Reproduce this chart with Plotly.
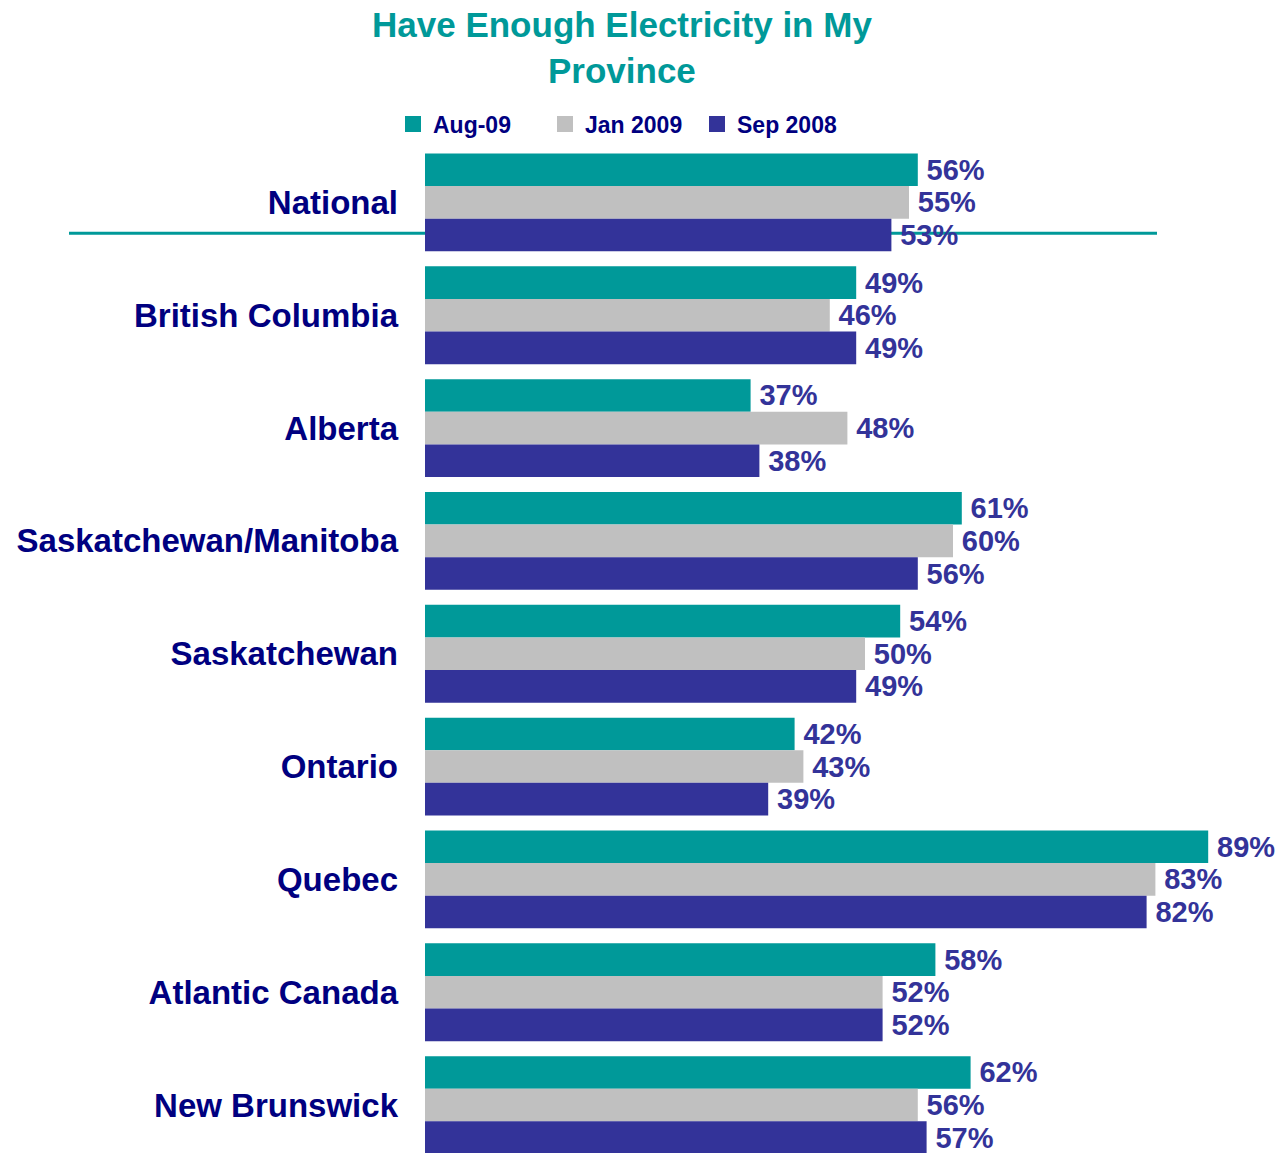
import plotly.graph_objects as go

categories = ["National", "British Columbia", "Alberta", "Saskatchewan/Manitoba",
              "Saskatchewan", "Ontario", "Quebec", "Atlantic Canada", "New Brunswick"]
aug09 = [56, 49, 37, 61, 54, 42, 89, 58, 62]
jan2009 = [55, 46, 48, 60, 50, 43, 83, 52, 56]
sep2008 = [53, 49, 38, 56, 49, 39, 82, 52, 57]
series_names = ["Aug-09", "Jan 2009", "Sep 2008"]
series_values = [aug09, jan2009, sep2008]
colors = ["#009999", "#C0C0C0", "#333399"]

FONT = "Liberation Sans, Arial, sans-serif"
W, H = 1279, 1153
L, T = 425, 144.5
PW, PH = W - L, H - T

fig = go.Figure()
for name, vals, col in zip(series_names, series_values, colors):
    fig.add_trace(go.Bar(
        y=categories, x=vals, orientation="h", name=name,
        marker=dict(color=col, line=dict(width=0)),
        text=[f"\u2009{v}%" for v in vals], textposition="outside",
        textfont=dict(family=FONT, size=29, color="#333399", weight="bold"),
        cliponaxis=False, showlegend=False, hoverinfo="x+y",
    ))
# legend entries with larger square symbols
for name, col in zip(series_names, colors):
    fig.add_trace(go.Scatter(
        x=[None], y=[None], mode="markers", name=name,
        marker=dict(symbol="square", size=17, color=col),
        showlegend=True,
    ))

line_y = 1 - (232 - T) / PH
fig.add_shape(type="line", xref="paper", yref="paper",
              x0=(69 - L) / PW, x1=(1157 - L) / PW,
              y0=line_y, y1=line_y,
              line=dict(color="#009999", width=3), layer="below")

fig.add_annotation(
    text="Have Enough Electricity in My<br>Province",
    xref="paper", yref="paper",
    x=(622 - L) / PW, xanchor="center",
    y=1 + (T - 1) / PH, yanchor="top",
    showarrow=False, align="center",
    font=dict(family=FONT, size=35, color="#009999", weight="bold"),
)

fig.update_layout(
    width=W, height=H,
    margin=dict(l=L, r=0, t=T, b=0, pad=0),
    paper_bgcolor="white", plot_bgcolor="white",
    barmode="group", bargap=0.133, bargroupgap=0,
    legend=dict(orientation="h", xref="container", yref="container",
                x=393 / W, xanchor="left", y=1 - 124 / H, yanchor="middle",
                font=dict(family=FONT, size=23, color="#000080", weight="bold"),
                entrywidth=107, entrywidthmode="pixels",
                bgcolor="rgba(0,0,0,0)", traceorder="normal"),
    xaxis=dict(range=[0, PW / 8.8], visible=False, showgrid=False, zeroline=False),
    yaxis=dict(range=[8.425, -0.5], showgrid=False, zeroline=False, showline=False,
               ticks="", ticklabelstandoff=26,
               tickfont=dict(family=FONT, size=33, color="#000080", weight="bold")),
    showlegend=True,
)

fig.write_html(
    "out.html",
    config={"displayModeBar": False},
    post_script="document.body.style.margin='0';document.body.style.overflow='hidden';",
)
